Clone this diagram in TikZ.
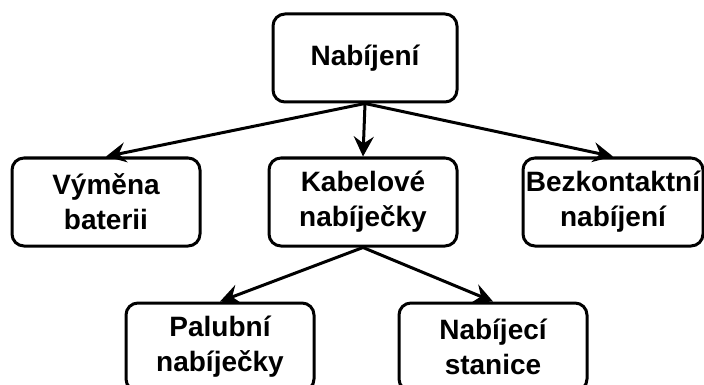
\documentclass[tikz,border=0pt]{standalone}
\usepackage{fontspec}
\setmainfont{Liberation Sans}
\usepackage{tikz}
\usetikzlibrary{arrows.meta}

\begin{document}
\begin{tikzpicture}[x=1pt,y=1pt]
                \tikzstyle{box}=[rectangle, rounded corners=12pt, draw=black, fill=white, line width=3pt, minimum width=188pt, minimum height=88pt, inner sep=0pt, align=center, font=\fontsize{28}{35}\selectfont\bfseries]
                \tikzstyle{link} = [draw, line width=3pt, -{Stealth[length=20pt,width=20pt,inset=7pt]}]

                \useasboundingbox (0,0) rectangle (704,-385);

                \node[box,minimum width=184pt] (nab) at (365,-58) {Nabíjení};
                \node[box] (vym) at (106,-202) {Výměna\\baterii};
                \node[box] (kab) at (363,-202) {Kabelové\\nabíječky};
                \node[box,minimum width=180pt] (bez) at (613,-202) {Bezkontaktní\\nabíjení};
                \node[box] (pal) at (220,-347) {Palubní\\nabíječky};
                \node[box] (sta) at (493,-347) {Nabíjecí\\stanice};

                \foreach \source/ \dest in {nab/vym, nab/kab, nab/bez, kab/pal, kab/sta}
                \path[link] (\source.south) -- (\dest.north);
            \end{tikzpicture}
\end{document}
